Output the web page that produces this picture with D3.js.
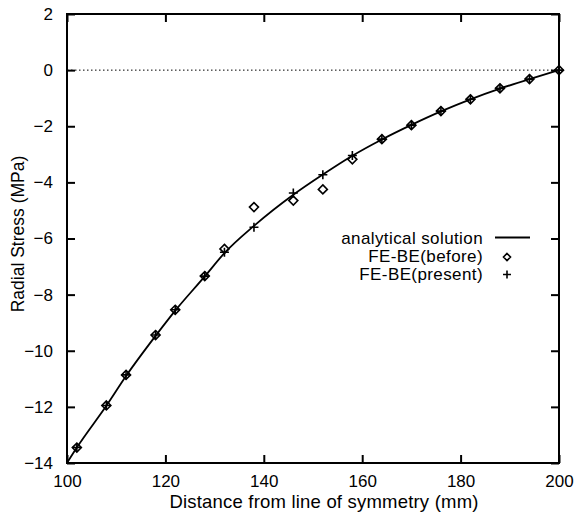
<!DOCTYPE html>
<html><head><meta charset="utf-8">
<script src="https://d3js.org/d3.v7.min.js"></script>
<style>body{margin:0;background:#fff}svg{display:block}text{font-family:"Liberation Sans",Arial,Helvetica,sans-serif;fill:#000}</style>
</head><body>
<script>
const xTicks = [100, 120, 140, 160, 180, 200];
const yTicks = [2, 0, -2, -4, -6, -8, -10, -12, -14];
const curveX = [100, 102, 108, 112, 118, 122, 128, 132, 138, 146, 152, 158, 164, 170, 176, 182, 188, 194, 200];
const curveY = [-14.0, -13.45, -11.96, -10.9, -9.47, -8.57, -7.35, -6.52, -5.55, -4.44, -3.72, -3.05, -2.47, -1.95, -1.47, -1.04, -0.66, -0.32, 0];
const beforeX = [102, 108, 112, 118, 122, 128, 132, 138, 146, 152, 158, 164, 170, 176, 182, 188, 194, 200];
const beforeY = [-13.45, -11.95, -10.86, -9.44, -8.54, -7.34, -6.37, -4.88, -4.65, -4.25, -3.18, -2.46, -1.96, -1.46, -1.04, -0.65, -0.32, 0];
const presentX = [102, 108, 112, 118, 122, 128, 132, 138, 146, 152, 158, 164, 170, 176, 182, 188, 194, 200];
const presentY = [-13.45, -11.95, -10.86, -9.44, -8.54, -7.34, -6.49, -5.6, -4.38, -3.73, -3.04, -2.46, -1.96, -1.46, -1.04, -0.65, -0.32, 0];
const legendLabels = ["analytical solution", "FE-BE(before)", "FE-BE(present)"];

const W = 576, H = 515;
const L = 67, R = 559, T = 14, B = 463;
const svg = d3.select("body").append("svg").attr("width", W).attr("height", H);
const x = d3.scaleLinear().domain([100, 200]).range([L, R]);
const y = d3.scaleLinear().domain([-14, 2]).range([B, T]);

// zero dotted line
svg.append("line").attr("x1", L).attr("x2", R).attr("y1", y(0)).attr("y2", y(0))
  .attr("stroke", "#000").attr("stroke-width", 1).attr("stroke-dasharray", "1.5,2.5");

// axes (inward ticks)
const tl = 8;
svg.append("g").attr("transform", `translate(0,${B})`)
  .call(d3.axisBottom(x).tickValues(xTicks).tickSize(-tl).tickPadding(12).tickFormat(d3.format("d")))
  .call(g => { g.select(".domain").remove(); g.selectAll("text").attr("font-size", 17).attr("font-family", "Liberation Sans, Arial, sans-serif"); g.selectAll("line").attr("stroke-width", 2); });
svg.append("g").attr("transform", `translate(0,${T})`)
  .call(d3.axisTop(x).tickValues(xTicks).tickSize(-tl).tickFormat(""))
  .call(g => { g.select(".domain").remove(); g.selectAll("line").attr("stroke-width", 2); });
svg.append("g").attr("transform", `translate(${L},0)`)
  .call(d3.axisLeft(y).tickValues(yTicks).tickSize(-tl).tickPadding(14).tickFormat(d3.format("d")))
  .call(g => { g.select(".domain").remove(); g.selectAll("text").attr("font-size", 17).attr("font-family", "Liberation Sans, Arial, sans-serif"); g.selectAll("line").attr("stroke-width", 2); });
svg.append("g").attr("transform", `translate(${R},0)`)
  .call(d3.axisRight(y).tickValues(yTicks).tickSize(-tl).tickFormat(""))
  .call(g => { g.select(".domain").remove(); g.selectAll("line").attr("stroke-width", 2); });

svg.append("rect").attr("x", L).attr("y", T).attr("width", R - L).attr("height", B - T)
  .attr("fill", "none").attr("stroke", "#000").attr("stroke-width", 2);

// analytical curve
const curveData = curveX.map((d, i) => [d, curveY[i]]);
svg.append("path").datum(curveData)
  .attr("d", d3.line().x(d => x(d[0])).y(d => y(d[1])).curve(d3.curveMonotoneX))
  .attr("fill", "none").attr("stroke", "#000").attr("stroke-width", 1.8);

const diamond = (cx, cy, r) => `M${cx},${cy - r}L${cx + r},${cy}L${cx},${cy + r}L${cx - r},${cy}Z`;
const plus = (cx, cy, r) => `M${cx - r},${cy}H${cx + r}M${cx},${cy - r}V${cy + r}`;

svg.append("g").selectAll("path").data(beforeX.map((d, i) => [d, beforeY[i]])).join("path")
  .attr("d", d => diamond(x(d[0]), y(d[1]), 4.5)).attr("fill", "none").attr("stroke", "#000").attr("stroke-width", 1.6);
svg.append("g").selectAll("path").data(presentX.map((d, i) => [d, presentY[i]])).join("path")
  .attr("d", d => plus(x(d[0]), y(d[1]), 4.5)).attr("fill", "none").attr("stroke", "#000").attr("stroke-width", 1.6);

// legend
const lg = svg.append("g");
const lBase = [244, 262, 280];
const lMark = [237.5, 257, 274.5];
legendLabels.forEach((t, i) => {
  lg.append("text").attr("x", 483).attr("y", lBase[i]).attr("text-anchor", "end")
    .attr("font-size", 17).attr("letter-spacing", 0.4).text(t);
});
lg.append("line").attr("x1", 495).attr("x2", 530).attr("y1", lMark[0]).attr("y2", lMark[0]).attr("stroke", "#000").attr("stroke-width", 1.8);
lg.append("path").attr("d", diamond(507, lMark[1], 3.5)).attr("fill", "none").attr("stroke", "#000").attr("stroke-width", 1.6);
lg.append("path").attr("d", plus(507, lMark[2], 4)).attr("fill", "none").attr("stroke", "#000").attr("stroke-width", 1.6);

// axis titles
svg.append("text").attr("x", 324).attr("y", 508).attr("text-anchor", "middle").attr("font-size", 18.5)
  .attr("letter-spacing", 0.2).text("Distance from line of symmetry (mm)");
svg.append("text").attr("transform", `translate(18,234) rotate(-90)`).attr("text-anchor", "middle")
  .attr("dy", "0.35em").attr("font-size", 17.5).text("Radial Stress (MPa)");
</script>
</body></html>
